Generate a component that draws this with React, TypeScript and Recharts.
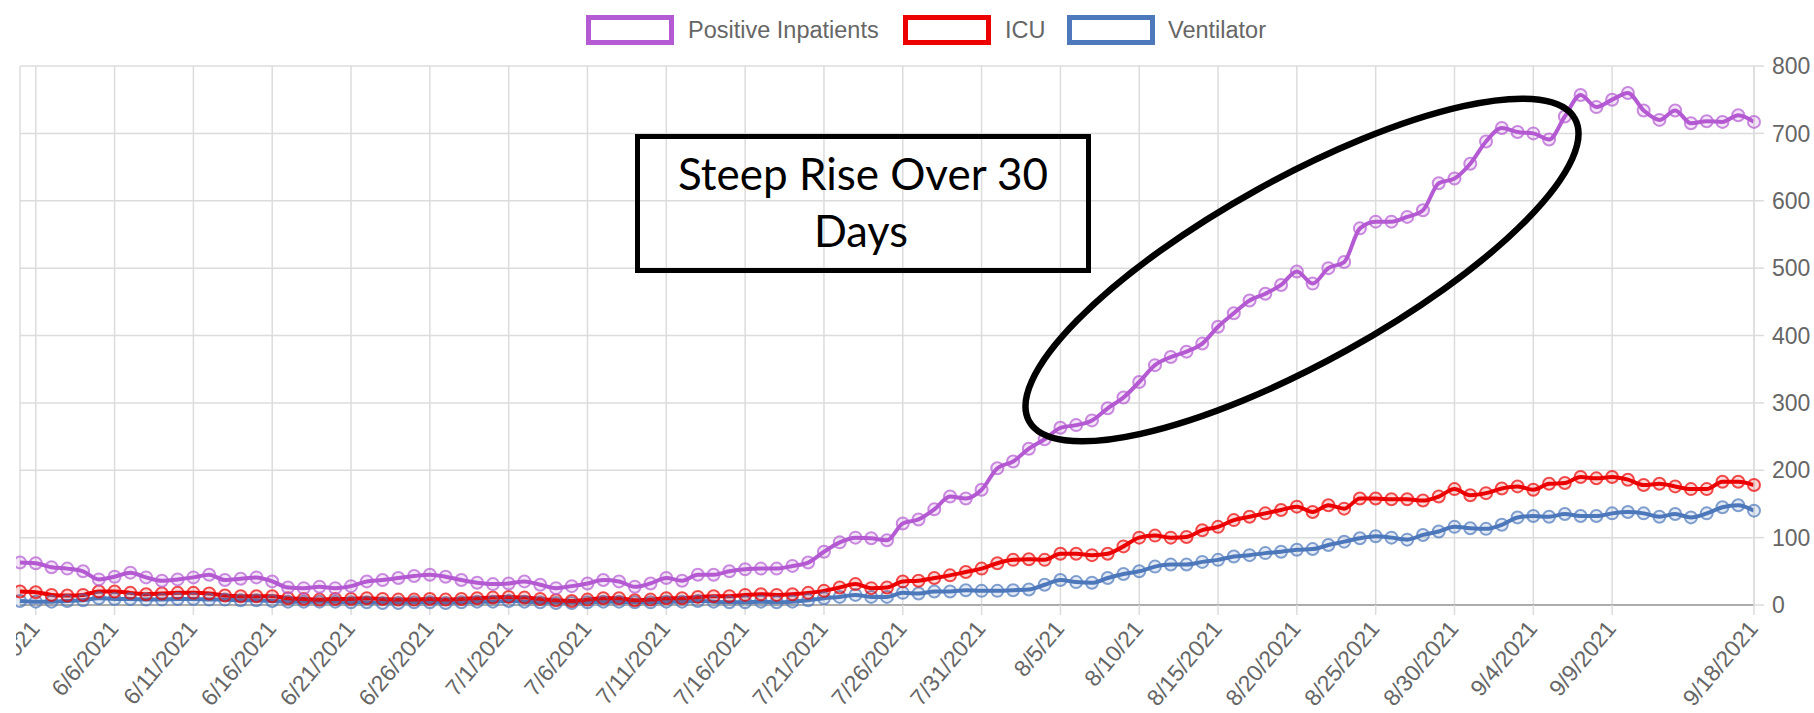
import { LineChart, Line, XAxis, YAxis, CartesianGrid } from "recharts";

// one value per day, 5/31/2021 .. 9/18/2021
const inpatients = [
  63, 62, 56, 54, 50, 38, 42, 48, 41, 36,
  38, 41, 45, 37, 39, 41, 35, 26, 25, 27,
  25, 28, 35, 37, 40, 43, 45, 42, 37, 33,
  31, 32, 35, 30, 25, 28, 32, 37, 35, 27,
  32, 40, 36, 45, 45, 50, 53, 54, 54, 58,
  63, 79, 93, 100, 99, 96, 121, 127, 142, 161,
  158, 171, 203, 213, 232, 246, 263, 267, 274, 292,
  308, 331, 356, 368, 376, 388, 413, 433, 452, 462,
  475, 495, 477, 500, 509, 559, 569, 569, 576, 586,
  626, 633, 655, 688, 708, 702, 700, 691, 725, 757,
  739, 750, 760, 734, 720, 734, 715, 718, 717, 727,
  717,
];

const icu = [
  20, 19, 15, 14, 15, 20, 20, 18, 16, 17,
  18, 18, 17, 14, 13, 13, 13, 10, 9, 8,
  9, 9, 10, 9, 8, 8, 9, 8, 9, 10,
  11, 12, 11, 9, 7, 6, 8, 10, 10, 7,
  8, 10, 10, 12, 13, 13, 15, 16, 15, 16,
  18, 21, 26, 31, 25, 26, 35, 36, 40, 44,
  49, 54, 62, 67, 68, 67, 76, 76, 74, 76,
  87, 100, 103, 100, 101, 111, 116, 126, 131, 136,
  141, 146, 138, 148, 143, 158, 158, 157, 157, 155,
  161, 172, 163, 166, 173, 176, 171, 180, 181, 190,
  188, 190, 186, 178, 180, 176, 172, 172, 183, 183,
  178,
];

const ventilator = [
  6, 5, 5, 6, 7, 10, 9, 9, 8, 8,
  9, 9, 8, 8, 7, 7, 6, 5, 5, 5,
  5, 4, 4, 3, 3, 4, 4, 3, 4, 5,
  5, 6, 5, 4, 3, 3, 4, 5, 5, 4,
  4, 5, 5, 6, 5, 4, 4, 5, 4, 5,
  7, 10, 12, 15, 12, 12, 18, 17, 20, 20,
  22, 21, 21, 22, 23, 30, 37, 34, 33, 40,
  46, 50, 57, 60, 60, 64, 67, 72, 74, 77,
  79, 82, 83, 89, 94, 99, 102, 100, 97, 104,
  109, 116, 114, 113, 119, 130, 132, 131, 135, 132,
  132, 136, 138, 136, 131, 135, 130, 136, 145, 148,
  140,
];

// month, first day, last day
const monthSpans = [
  [5, 31, 31],
  [6, 1, 30],
  [7, 1, 31],
  [8, 1, 31],
  [9, 1, 18],
];

const dates: string[] = [];
monthSpans.forEach(([m, from, to]) => {
  for (let d = from; d <= to; d++) dates.push(`${m}/${d}/2021`);
});

const xTicks = [
  "6/1/2021", "6/6/2021", "6/11/2021", "6/16/2021", "6/21/2021", "6/26/2021",
  "7/1/2021", "7/6/2021", "7/11/2021", "7/16/2021", "7/21/2021", "7/26/2021",
  "7/31/2021", "8/5/2021", "8/10/2021", "8/15/2021", "8/20/2021", "8/25/2021",
  "8/30/2021", "9/4/2021", "9/9/2021", "9/18/2021",
];
const tickText: Record<string, string> = { "8/5/2021": "8/5/21", "8/10/2021": "8/10/21" };
const yTicks = [0, 100, 200, 300, 400, 500, 600, 700, 800];

const series = [
  { key: "ventilator", name: "Ventilator", color: "#4d78bb" },
  { key: "icu", name: "ICU", color: "#ec0000" },
  { key: "inpatients", name: "Positive Inpatients", color: "#b45ad2" },
];

const FONT = "'Liberation Sans', Arial, sans-serif";
const GRID = "#dcdcdc";

function DateTick(props: any) {
  const { x, y, payload } = props;
  const label = tickText[payload.value] ?? payload.value;
  return (
    <g transform={`translate(${x - 1},${y + 7})`}>
      <text textAnchor="end" transform="rotate(-50)" dy="0.35em" fontSize={23} fill="#666" fontFamily={FONT}>
        {label}
      </text>
    </g>
  );
}

export default function App() {
  const data = dates.map((date, i) => ({
    date,
    inpatients: inpatients[i],
    icu: icu[i],
    ventilator: ventilator[i],
  }));

  const legend = [
    { name: "Positive Inpatients", color: "#b45ad2", box: 586, text: 688 },
    { name: "ICU", color: "#ec0000", box: 903, text: 1005 },
    { name: "Ventilator", color: "#4d78bb", box: 1067, text: 1168 },
  ];

  return (
    <div style={{ position: "absolute", left: 0, top: 0, width: 1814, height: 713, background: "#fff", overflow: "hidden" }}>
      <LineChart width={1814} height={713} data={data} margin={{ top: 66, right: 5, bottom: 8, left: 20 }}>
        <CartesianGrid stroke={GRID} strokeWidth={1.5} />
        <XAxis
          dataKey="date"
          ticks={xTicks}
          interval={0}
          height={100}
          tickSize={10}
          tickMargin={2}
          tickLine={{ stroke: GRID, strokeWidth: 1.5 }}
          axisLine={{ stroke: "#999", strokeWidth: 1.5 }}
          tick={<DateTick />}
        />
        <YAxis
          orientation="right"
          domain={[0, 800]}
          ticks={yTicks}
          width={55}
          tickSize={10}
          tickMargin={8}
          tickLine={{ stroke: GRID, strokeWidth: 1.5 }}
          axisLine={{ stroke: GRID, strokeWidth: 1.5 }}
          tick={{ fontSize: 23, fill: "#666", fontFamily: FONT }}
        />
        {series.map((s) => (
          <Line
            key={s.key}
            dataKey={s.key}
            name={s.name}
            type="monotone"
            stroke={s.color}
            strokeWidth={4}
            dot={{ r: 6, stroke: s.color, strokeWidth: 2, strokeOpacity: 0.7, fill: s.color, fillOpacity: 0.15 }}
            isAnimationActive={false}
          />
        ))}
      </LineChart>

      <svg width={1814} height={713} style={{ position: "absolute", left: 0, top: 0, pointerEvents: "none" }}>
        <rect x={0} y={0} width={16} height={713} fill="#fff" />
        {legend.map((l) => (
          <g key={l.name}>
            <rect x={l.box + 2.5} y={17.5} width={83} height={25} fill="#fff" stroke={l.color} strokeWidth={5} />
            <text x={l.text} y={38} fontSize={23.5} fill="#666" fontFamily={FONT}>
              {l.name}
            </text>
          </g>
        ))}
        <rect x={637.5} y={136.5} width={451} height={134} fill="none" stroke="#000" strokeWidth={5} />
        <text x={863} y={190} textAnchor="middle" fontSize={44} fontFamily="Lato, 'Open Sans', sans-serif" textLength={370} lengthAdjust="spacingAndGlyphs">
          Steep Rise Over 30
        </text>
        <text x={861} y={247} textAnchor="middle" fontSize={44} fontFamily="Lato, 'Open Sans', sans-serif" textLength={94} lengthAdjust="spacingAndGlyphs">
          Days
        </text>
        <ellipse cx={1302} cy={270} rx={312} ry={92} transform="rotate(-29 1302 270)" fill="none" stroke="#000" strokeWidth={6.5} />
      </svg>
    </div>
  );
}
